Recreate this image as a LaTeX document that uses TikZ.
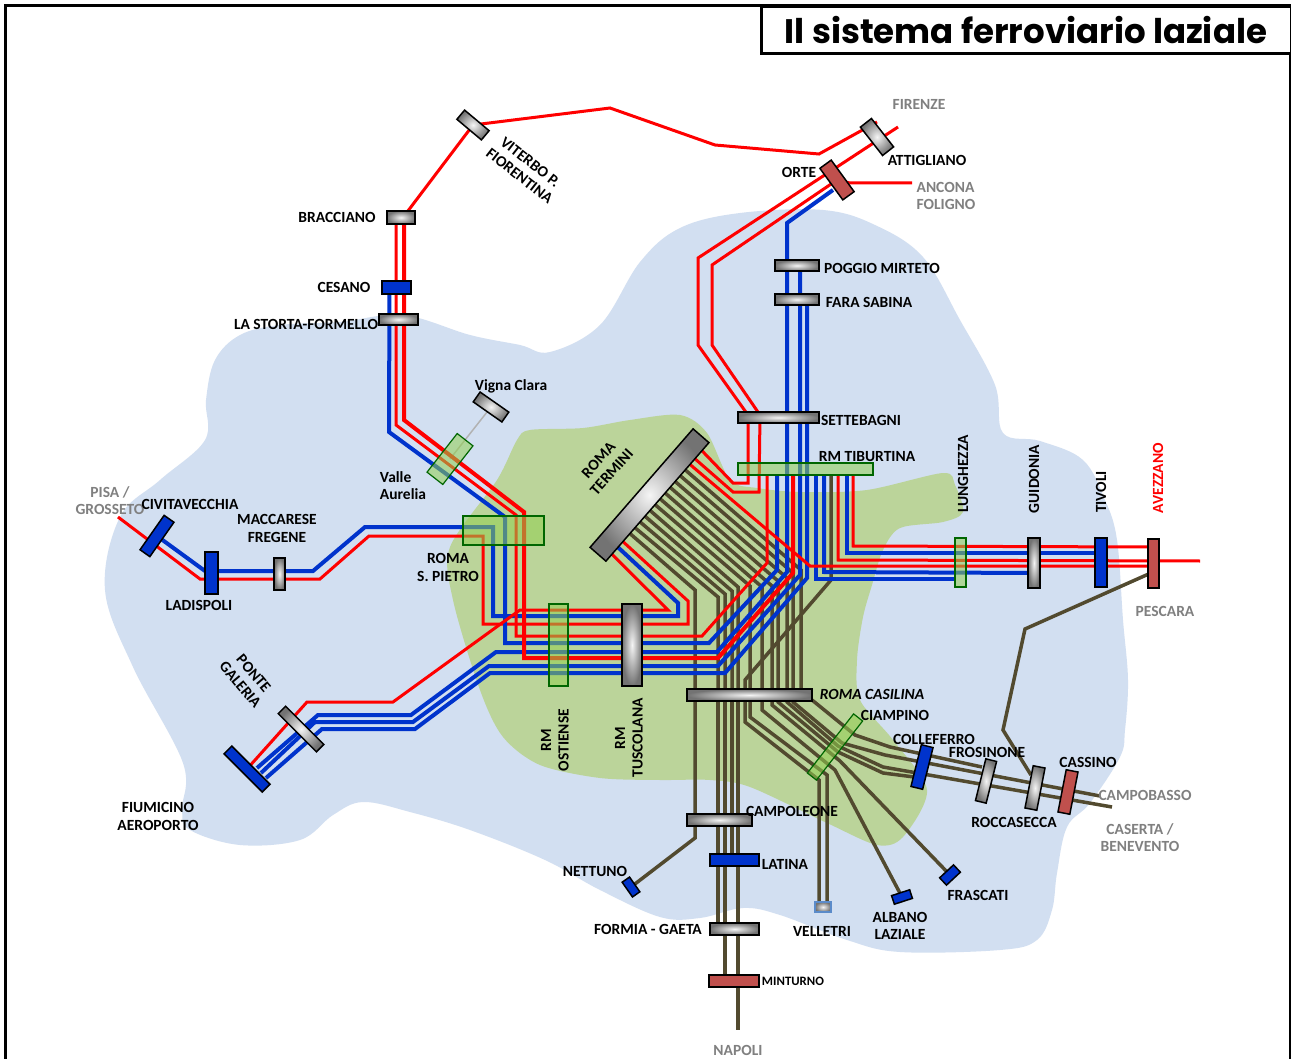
\documentclass[tikz,border=0pt]{standalone}
\usepackage{fontspec}
\setmainfont{Carlito}
\newfontfamily\titlefont{Poppins}
\usepackage{tikz}
\usetikzlibrary{calc}
\pgfdeclarelayer{blobs}
\pgfdeclarelayer{tracks}
\pgfsetlayers{blobs,tracks,main}
\definecolor{bluearea}{HTML}{D2DFF1}
\definecolor{greenarea}{HTML}{BBD49A}
\definecolor{trackred}{HTML}{FF0000}
\definecolor{trackblue}{HTML}{0033CC}
\definecolor{trackolive}{HTML}{524A2F}
\definecolor{boxred}{HTML}{C0504D}
\definecolor{boxgreen}{HTML}{92D050}
\definecolor{edgegreen}{HTML}{006600}
\definecolor{labelgray}{HTML}{808080}
\definecolor{velletriedge}{HTML}{5B8BC9}
\tikzset{
        stationbox/.style={draw=black,line width=1.5pt,rectangle,inner sep=0pt,outer sep=0pt},
        boxsize/.style 2 args={minimum width=#1,minimum height=#2},
        graybox/.style={stationbox,shade,inner color=white!92!gray,outer color=gray!90!black},
        bluebox/.style={stationbox,fill=trackblue},
        redbox/.style={stationbox,fill=boxred},
        greenbox/.style={rectangle,inner sep=0pt,outer sep=0pt,draw=edgegreen,line width=1.2pt,fill=boxgreen,fill opacity=0.55},
        redline/.style={draw=trackred,line width=3pt},
        thickred/.style={draw=trackred,line width=4pt},
        blueline/.style={draw=trackblue,line width=4pt},
        oliveline/.style={draw=trackolive,line width=3.5pt},
        place/.style={font=\fontsize{15.5}{17.5}\selectfont\bfseries,align=center,inner sep=0pt},
        farplace/.style={place,text=labelgray},
}
\begin{document}
\begin{tikzpicture}[x=1pt,y=-1pt]
        \useasboundingbox (0,0) rectangle (1291,1059);
        \begin{pgfonlayer}{blobs}
        \fill[white] (0,0) rectangle (1291,1059);
        \fill[bluearea] plot[smooth cycle,tension=0.6] coordinates {(120,517) (160,480) (205,440) (206,400) (215,360) (240,335) (280,325) (340,322) (403,315) (470,335) (520,345) (550,352) (600,325) (640,262) (680,228) (740,213) (823,210) (875,225) (923,257) (960,320) (995,385) (1003,433) (1040,441) (1083,460) (1105,500) (1117,540) (1123,620) (1128,680) (1125,730) (1120,757) (1090,803) (1067,827) (1057,873) (1052,910) (1037,940) (1000,950) (900,952) (847,940) (780,915) (743,908) (700,918) (660,917) (600,890) (545,860) (470,830) (410,812) (363,802) (333,815) (300,840) (240,845) (190,830) (182,810) (183,763) (133,667) (105,590)};
        \fill[greenarea] plot[smooth cycle,tension=0.5] coordinates {(583,428) (630,420) (680,415) (707,433) (730,480) (757,488) (800,492) (867,490) (943,473) (955,485) (963,512) (943,522) (900,528) (883,550) (872,585) (863,617) (857,660) (860,700) (893,740) (927,790) (903,837) (877,845) (827,823) (750,787) (710,780) (660,780) (600,778) (540,765) (503,737) (480,690) (453,600) (450,547) (497,480) (517,440) (530,430)};
        \end{pgfonlayer}

        %frame and title
        \draw[line width=3pt] (5,1059) -- (5,6) -- (1290,6) -- (1290,1059);
        \node[draw,line width=3pt,fill=white,inner sep=0pt,boxsize={530}{47},font=\titlefont\bfseries\fontsize{34}{36}\selectfont] (title) at (1026,30.5) {Il sistema ferroviario laziale};

        %stations
        \node[graybox,boxsize={36}{14},rotate=-52] (attigliano) at (877,137) {};
        \node[redbox,boxsize={39}{14},rotate=-54] (orte) at (837,180) {};
        \node[graybox,boxsize={32}{12},rotate=-40] (viterbo) at (473,125) {};
        \node[graybox,boxsize={28}{13}] (bracciano) at (401,217.5) {};
        \node[bluebox,boxsize={29}{13}] (cesano) at (396.5,287.5) {};
        \node[graybox,boxsize={39}{11}] (lastorta) at (398.5,319.5) {};
        \node[graybox,boxsize={35}{12},rotate=-35] (vignaclara) at (491,407) {};
        \node[greenbox,boxsize={49}{20},rotate=52] (valleaurelia) at (450,459) {};
        \node[greenbox,boxsize={81}{29}] (sanpietro) at (503.5,530.5) {};
        \node[greenbox,boxsize={19}{82}] (ostiense) at (558.5,645) {};
        \node[graybox,boxsize={20}{82}] (tuscolana) at (632,645) {};
        \node[graybox,boxsize={157}{21},rotate=49] (termini) at (649.5,495) {};
        \node[graybox,boxsize={81}{11}] (settebagni) at (778.5,417.5) {};
        \node[greenbox,boxsize={135}{12}] (tiburtina) at (805.5,469) {};
        \node[graybox,boxsize={44}{11}] (poggio) at (797,265.5) {};
        \node[graybox,boxsize={44}{11}] (fara) at (797,299.5) {};
        \node[graybox,boxsize={125}{12}] (casilina) at (749.5,695) {};
        \node[greenbox,boxsize={75}{11.5},rotate=52] (ciampino) at (835,747) {};
        \node[bluebox,boxsize={43}{12},rotate=76] (colleferro) at (922,767) {};
        \node[graybox,boxsize={43}{11},rotate=76] (frosinone) at (986,781) {};
        \node[graybox,boxsize={43}{12},rotate=79] (roccasecca) at (1035,788) {};
        \node[redbox,boxsize={43}{12},rotate=79] (cassino) at (1068,792) {};
        \node[graybox,boxsize={65}{12}] (campoleone) at (719.5,820) {};
        \node[bluebox,boxsize={49}{12}] (latina) at (734.5,860) {};
        \node[graybox,boxsize={49}{12}] (gaeta) at (734.5,929) {};
        \node[redbox,boxsize={50}{12}] (minturno) at (734,981) {};
        \node[graybox,draw=velletriedge,boxsize={16}{10}] (velletri) at (823,907) {};
        \node[bluebox,boxsize={19}{9},rotate=18] (albano) at (902,897) {};
        \node[bluebox,boxsize={19}{10},rotate=43] (frascati) at (950,875) {};
        \node[bluebox,boxsize={18}{9},rotate=-55] (nettuno) at (631,887) {};
        \node[greenbox,boxsize={11}{49}] (lunghezza) at (960.5,562.5) {};
        \node[graybox,boxsize={12}{50}] (guidonia) at (1034,563) {};
        \node[bluebox,boxsize={12}{49}] (tivoli) at (1101,562.5) {};
        \node[redbox,boxsize={11}{49}] (pescara) at (1153.5,563.5) {};
        \node[bluebox,boxsize={42}{12},rotate=55] (civitavecchia) at (157,536) {};
        \node[bluebox,boxsize={13}{42}] (ladispoli) at (211.5,573) {};
        \node[graybox,boxsize={11}{32}] (maccarese) at (279.5,574) {};
        \node[graybox,boxsize={54}{10.5},rotate=-45] (pontegaleria) at (301,729) {};
        \node[bluebox,boxsize={54}{11},rotate=-45] (fiumicino) at (247,769) {};

        %free ends
        \coordinate (firenzeend) at (898,127);
        \coordinate (anconaend) at (912,183);
        \coordinate (pisaend) at (118,517);
        \coordinate (avezzanoend) at (1200,561);
        \coordinate (campobassoend) at (1100,796);
        \coordinate (casertaend) at (1112,807);
        \coordinate (napoliend) at (738,1030);

        \begin{pgfonlayer}{tracks}
        %termini>casilina
        \foreach \t/\xe/\ye in {.233/695/590,.282/718/597,.331/725/594,.379/732/591,.428/738/587,.477/750/586,.526/762/587,.575/772/586,.623/778/581,.672/787/578,.721/793/573,.770/801/570}
                \draw[oliveline] ($(termini.south west)!\t!(termini.south east)$) -- (\xe,\ye) -- (\xe,695);
        %tiburtina>velletri
        \draw[oliveline] ([xshift=25.5]tiburtina.south) -- (831,580) -- (745,680) -- (745,722) -- (819,780) -- ([xshift=-4]velletri.center);
        \draw[oliveline] ([xshift=.5]casilina.center) -- (750,717) -- (827,775) -- ([xshift=4]velletri.center);
        %casilina>south
        \draw[oliveline] ([xshift=-54.5]casilina.center) -- (695,838) -- (nettuno.center);
        \draw[oliveline] ([xshift=-31.5]casilina.center) -- ([xshift=-16.5]gaeta.center);
        \draw[oliveline] ([xshift=-24.5]casilina.center) -- ([xshift=-9]minturno.center);
        \draw[oliveline] ([xshift=-17.5]casilina.center) -- ([xshift=-2.5]latina.center);
        \draw[oliveline] ([xshift=-11.5]casilina.center) -- (napoliend);
        %casilina>southeast
        \draw[oliveline] ([xshift=12.5]casilina.center) -- (762,710) -- (835,770) -- (albano.center);
        \draw[oliveline] ([xshift=22.5]casilina.center) -- (772,705) -- (840,761) -- (frascati.center);
        \draw[oliveline] ([xshift=28.5]casilina.center) -- (778,702) -- (838,752) -- (883,773) -- ([yshift=-11]colleferro.center);
        \draw[oliveline] ([xshift=37.5]casilina.center) -- (787,702) -- (838,746) -- (883,767) -- (casertaend);
        \draw[oliveline] ([xshift=43.5]casilina.center) -- (793,702) -- (842,743) -- (885,755) -- (campobassoend);
        \draw[oliveline] ([xshift=51.5]casilina.center) -- (812,700) -- (855,735) -- (890,747) -- ([xshift=-4,yshift=14]frosinone.center);
        %pescara>roccasecca
        \draw[oliveline] ([xshift=-6,yshift=-11]pescara.center) -- (1025,629) -- (1003,730) -- ([xshift=-4,yshift=13]roccasecca.center);
        %viterbo line
        \draw[redline] (viterbo.center) -- (610,108) -- (715,145) -- (819,154) -- ([yshift=15]attigliano.center);
        \draw[redline] (viterbo.center) -- ([xshift=2]bracciano.center);
        \draw[draw=gray!60,line width=1.5pt] (vignaclara.center) -- (valleaurelia.center);
        %orte>termini
        \draw[redline] (firenzeend) -- (698,258) -- (698,345) -- (748,415) -- (748,483) -- (733,483) -- ($(termini.south west)!0.932!(termini.south east)$);
        \draw[redline] (anconaend) -- (850,183) -- (orte.center) -- (712,265) -- (712,345) -- (760,415) -- (759,492) -- (733,492) -- ($(termini.south west)!0.864!(termini.south east)$);
        %civitavecchia>termini
        \draw[redline] (pisaend) -- (200,579) -- (320,579) -- (369,536) -- (483,536) -- (483,624) -- (688,624) -- (688,601) -- ($(termini.south west)!0.165!(termini.south east)$);
        \draw[blueline] (civitavecchia.center) -- (205,571) -- (313,571) -- (365,527) -- (493,527) -- (493,616) -- (678,616) -- (678,603) -- ($(termini.south west)!0.117!(termini.south east)$);
        %fiumicino>orte, poggio, fara
        \draw[blueline] ([xshift=10,yshift=1]fiumicino.center) -- (318,715) -- (411,715) -- (496,652) -- (717,652) -- (787,572) -- (787,223) -- ([xshift=-4,yshift=-10]orte.center);
        \draw[blueline] ([xshift=14,yshift=-4]fiumicino.center) -- (315,722) -- (413,722) -- (489,666) -- (718,666) -- (800,575) -- ([xshift=3]poggio.center);
        \draw[blueline] ([xshift=19,yshift=-9]fiumicino.center) -- (322,729) -- (415,729) -- (490,673) -- (725,673) -- (807,578) -- ([xshift=10]fara.center);
        %bracciano>tiburtina
        \draw[blueline] ([xshift=-7]cesano.center) -- (389,432) -- (505,517) -- (505,643) -- (709,643) -- (777,570) -- ([xshift=-28.5]tiburtina.south);
        \draw[redline] ([xshift=-5]bracciano.center) -- (396,425) -- (516,515) -- (516,636) -- (702,636) -- (767,563) -- ([xshift=-38.5]tiburtina.south);
        \draw[thickred] ([xshift=3]bracciano.center) -- (404,420) -- (524,512) -- (524,658) -- (718,658) -- (793,573) -- ([xshift=-12.5]tiburtina.south);
        %fiumicino>termini
        \draw[redline] (fiumicino.center) -- (307,702) -- (393,702) -- (513,615) -- (520,610) -- (668,610) -- ($(termini.south west)!0.058!(termini.south east)$);
        %tiburtina>east
        \draw[redline] ([xshift=47.5]tiburtina.south) -- (853,546) -- ([yshift=16.5]pescara.center);
        \draw[blueline] ([xshift=41.5]tiburtina.south) -- (847,553) -- ([yshift=9.5]tivoli.center);
        \draw[redline] ([xshift=32.5]tiburtina.south) -- (838,560) -- (avezzanoend);
        \draw[blueline] ([xshift=18.5]tiburtina.south) -- (824,572) -- ([yshift=-10]guidonia.center);
        \draw[blueline] ([xshift=10.5]tiburtina.south) -- (816,579) -- ([yshift=-16.5]lunghezza.west);
        \draw[redline] ($(termini.south west)!0.816!(termini.south east)$) -- (810,566) -- ([yshift=-2.5]pescara.center);
        \end{pgfonlayer}

        %labels
        \node[farplace] (firenzelabel) at (919,104) {FIRENZE};
        \node[place] (attiglianolabel) at (927,160) {ATTIGLIANO};
        \node[place] (ortelabel) at (799,172) {ORTE};
        \node[farplace,align=left] (anconalabel) at (946,196) {ANCONA\\FOLIGNO};
        \node[place] (poggiolabel) at (882,268) {POGGIO MIRTETO};
        \node[place] (faralabel) at (869,302) {FARA SABINA};
        \node[place] (braccianolabel) at (337,217) {BRACCIANO};
        \node[place] (cesanolabel) at (344,287) {CESANO};
        \node[place] (lastortalabel) at (306,324) {LA STORTA-FORMELLO};
        \node[place,rotate=-38] (viterbolabel) at (525,169) {VITERBO P.\\FIORENTINA};
        \node[place] (vignaclaralabel) at (511,386) {Vigna Clara};
        \node[place,align=left] (valleaurelialabel) at (403,485.5) {Valle\\Aurelia};
        \node[place,rotate=48] (terminilabel) at (605,466) {ROMA\\TERMINI};
        \node[place] (settebagnilabel) at (861,420) {SETTEBAGNI};
        \node[place] (tiburtinalabel) at (867,457) {RM TIBURTINA};
        \node[place,rotate=90] (lunghezzalabel) at (963,474) {LUNGHEZZA};
        \node[place,rotate=90] (guidonialabel) at (1034,479) {GUIDONIA};
        \node[place,rotate=90] (tivolilabel) at (1101,492) {TIVOLI};
        \node[place,rotate=90,text=trackred] (avezzanolabel) at (1158,478) {AVEZZANO};
        \node[farplace] (pescaralabel) at (1165,611) {PESCARA};
        \node[farplace] (pisalabel) at (110,500.5) {PISA /\\GROSSETO};
        \node[place] (civitavecchialabel) at (190,504) {CIVITAVECCHIA};
        \node[place] (maccareselabel) at (277,528.5) {MACCARESE\\FREGENE};
        \node[place] (sanpietrolabel) at (448,567.5) {ROMA\\S. PIETRO};
        \node[place] (ladispolilabel) at (199,605) {LADISPOLI};
        \node[place,rotate=-50] (pontelabel) at (247,679) {PONTE\\GALERIA};
        \node[place] (fiumicinolabel) at (158,816.5) {FIUMICINO\\AEROPORTO};
        \node[place,rotate=90] (ostienselabel) at (555,740) {RM\\OSTIENSE};
        \node[place,rotate=90] (tuscolanalabel) at (629,738) {RM\\TUSCOLANA};
        \node[place,font=\fontsize{15.5}{17.5}\selectfont\bfseries\itshape] (casilinalabel) at (872,694) {ROMA CASILINA};
        \node[place] (ciampinolabel) at (895,715) {CIAMPINO};
        \node[place] (colleferrolabel) at (934,739) {COLLEFERRO};
        \node[place] (frosinonelabel) at (987,752) {FROSINONE};
        \node[place] (cassinolabel) at (1088,762) {CASSINO};
        \node[place] (roccaseccalabel) at (1014,822) {ROCCASECCA};
        \node[farplace] (campobassolabel) at (1145,795) {CAMPOBASSO};
        \node[farplace] (casertalabel) at (1140,837.5) {CASERTA /\\BENEVENTO};
        \node[place] (campoleonelabel) at (792,811) {CAMPOLEONE};
        \node[place] (latinalabel) at (785,864) {LATINA};
        \node[place] (nettunolabel) at (595,871) {NETTUNO};
        \node[place] (gaetalabel) at (648,929) {FORMIA - GAETA};
        \node[place,font=\fontsize{12.8}{14}\selectfont\bfseries] (minturnolabel) at (793,981) {MINTURNO};
        \node[place] (velletrilabel) at (822,931) {VELLETRI};
        \node[place] (albanolabel) at (900,926) {ALBANO\\LAZIALE};
        \node[place] (frascatilabel) at (978,895) {FRASCATI};
        \node[farplace] (napolilabel) at (738,1050) {NAPOLI};
\end{tikzpicture}
\end{document}
